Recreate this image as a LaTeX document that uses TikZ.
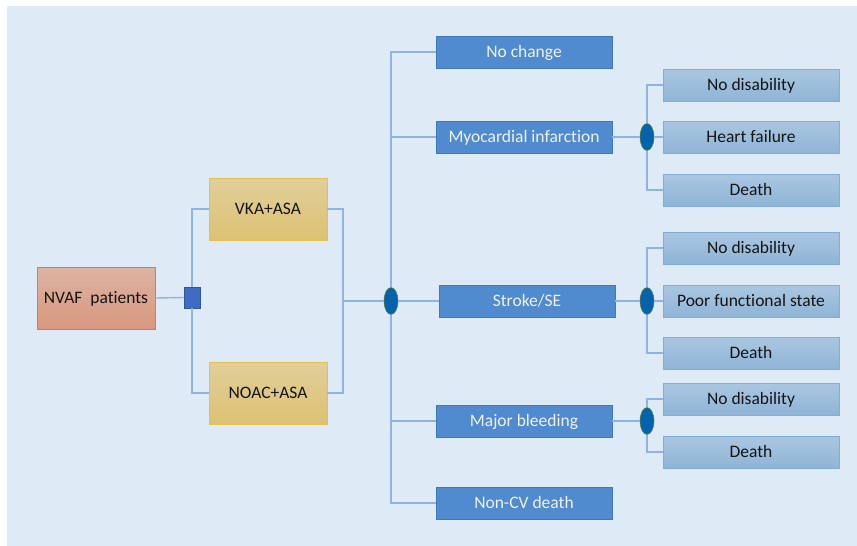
\documentclass[tikz,border=0pt]{standalone}
\usepackage{fontspec}
\setmainfont{Carlito}[Ligatures=NoCommon]
\usetikzlibrary{shapes.geometric}
\definecolor{bgc}{HTML}{DEEBF7}
\definecolor{linec}{HTML}{8DB4E2}
\definecolor{chancef}{HTML}{0563AE}
\definecolor{chanced}{HTML}{5B8A3C}
\definecolor{sqf}{HTML}{3F6BC5}
\definecolor{sqd}{HTML}{2F54A0}
\definecolor{nvtop}{HTML}{DDB3A3}
\definecolor{nvbot}{HTML}{D8987E}
\definecolor{nvd}{HTML}{E07B3A}
\definecolor{yetop}{HTML}{E1CE99}
\definecolor{yebot}{HTML}{DDC273}
\definecolor{yed}{HTML}{E5C04A}
\definecolor{dbf}{HTML}{4F8BCE}
\definecolor{dbd}{HTML}{3E79BC}
\definecolor{lbtop}{HTML}{AAC7E1}
\definecolor{lbbot}{HTML}{8FB4D6}
\definecolor{lbd}{HTML}{7FAEDB}
\definecolor{txt}{HTML}{141414}
\tikzset{
  base/.style={rectangle, inner sep=0pt, font=\fontsize{17.5}{19}\selectfont, line width=0.8pt, text height=14.2pt, text depth=3pt},
  nvbox/.style={base, draw=nvd, top color=nvtop, bottom color=nvbot, minimum width=118pt, minimum height=62pt, text=txt},
  ybox/.style={base, draw=yed, top color=yetop, bottom color=yebot, minimum width=118pt, minimum height=62pt, text=txt},
  dbox/.style={base, draw=dbd, fill=dbf, minimum width=176pt, minimum height=32pt, text=white!94!black},
  lbox/.style={base, draw=lbd, top color=lbtop, bottom color=lbbot, minimum width=176pt, minimum height=32pt, text=txt},
  chance/.style={ellipse, draw=chanced, fill=chancef, line width=0.6pt, minimum width=14pt, minimum height=27pt, inner sep=0pt},
  decision/.style={rectangle, draw=sqd, fill=sqf, line width=0.8pt, minimum width=16pt, minimum height=21pt, inner sep=0pt},
  conn/.style={draw=linec, line width=1.4pt}
}
\begin{document}
\begin{tikzpicture}[x=1pt,y=-1pt]
\useasboundingbox (0,0) rectangle (857,546);
\fill[white] (0,0) rectangle (857,546);
\fill[bgc] (7,6) rectangle (857,546);

\node[nvbox] (nvaf) at (96,298) {NVAF\hspace{0.45em}patients};
\node[decision] (sq) at (192,297.5) {};
\node[ybox] (vka) at (268,209) {VKA+ASA};
\node[ybox] (noac) at (268,393) {NOAC+ASA};
\coordinate (j1) at (343,301);
\node[chance] (c1) at (391,301) {};

\node[dbox] (nochange) at (524,52) {No change};
\node[dbox] (mi) at (524,137) {Myocardial infarction};
\node[dbox] (stroke) at (527,301) {Stroke/SE};
\node[dbox] (mb) at (524,421) {Major bleeding};
\node[dbox] (noncv) at (524,503) {Non-CV death};

\node[chance] (c2) at (647,137) {};
\node[chance] (c3) at (647,301) {};
\node[chance] (c4) at (647,421) {};

\node[lbox] (nd1) at (751,85) {No disability};
\node[lbox] (hf) at (751,137) {Heart failure};
\node[lbox] (d1) at (751,190) {Death};
\node[lbox] (nd2) at (751,248) {No disability};
\node[lbox] (pfs) at (751,301) {Poor functional state};
\node[lbox] (d2) at (751,353) {Death};
\node[lbox] (nd3) at (751,399) {No disability};
\node[lbox] (d3) at (751,452) {Death};

\draw[conn] (nvaf.east) -- (sq.west);
\draw[conn] (sq.north) |- (vka.west);
\draw[conn] (sq.south) |- (noac.west);
\draw[conn] (vka.east) -| (j1);
\draw[conn] (noac.east) -| (j1);
\draw[conn] (j1) -- (c1.west);
\draw[conn] (c1.north) |- (nochange.west);
\draw[conn] (c1.north) |- (mi.west);
\draw[conn] (c1.east) -- (stroke.west);
\draw[conn] (c1.south) |- (mb.west);
\draw[conn] (c1.south) |- (noncv.west);

\draw[conn] (mi.east) -- (c2.west);
\draw[conn] (c2.north) |- (nd1.west);
\draw[conn] (c2.east) -- (hf.west);
\draw[conn] (c2.south) |- (d1.west);

\draw[conn] (stroke.east) -- (c3.west);
\draw[conn] (c3.north) |- (nd2.west);
\draw[conn] (c3.east) -- (pfs.west);
\draw[conn] (c3.south) |- (d2.west);

\draw[conn] (mb.east) -- (c4.west);
\draw[conn] (c4.north) |- (nd3.west);
\draw[conn] (c4.south) |- (d3.west);
\end{tikzpicture}
\end{document}
